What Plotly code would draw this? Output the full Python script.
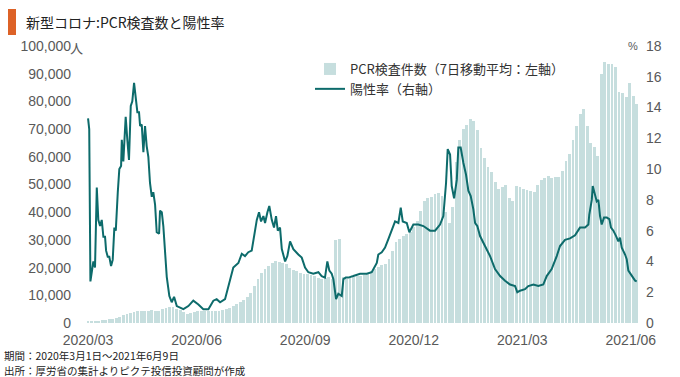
import pandas as pd
import plotly.graph_objects as go

START = "2020-03-01"

# PCR tests (7-day moving average), thousands of people, one value every 3 days from 2020-03-01
tests_k = [
    0.6, 0.7, 0.8, 0.9, 1.0, 1.1, 1.3, 1.5, 1.8, 2.3, 2.9, 3.3, 3.7, 4.1, 4.3, 4.4,
    4.5, 4.4, 4.6, 4.5, 4.5, 4.9, 5.5, 5.8, 5.6, 5.2, 4.8, 3.8, 3.3, 3.6, 4.1, 4.3,
    4.4, 4.3, 4.4, 4.3, 4.4, 4.4, 4.6, 5.0, 5.5, 6.0, 6.8, 7.6, 8.4, 9.3, 11.0, 13.5,
    16.0, 18.0, 19.5, 20.6, 21.5, 22.4, 22.0, 21.5, 21.3, 20.0, 19.0, 18.6, 18.0, 17.8,
    17.7, 17.3, 16.8, 16.3, 15.9, 16.2, 16.5, 16.0, 30.0, 30.3, 16.5, 15.9, 16.2, 16.5,
    16.8, 17.0, 17.4, 18.0, 18.8, 19.5, 20.2, 20.8, 21.3, 23.0, 26.0, 29.2, 30.5, 31.5,
    32.3, 33.0, 34.5, 37.0, 40.5, 44.0, 45.0, 45.5, 46.5, 47.0, 46.0, 40.0, 36.0, 42.0,
    58.0, 66.0, 70.0, 71.5, 73.6, 73.0, 69.5, 63.0, 59.5, 56.5, 54.5, 51.0, 48.5, 49.0,
    50.0, 45.0, 44.0, 49.5, 49.0, 48.4, 48.0, 47.5, 47.2, 50.0, 51.5, 52.5, 53.0, 52.5,
    52.7, 52.6, 55.0, 58.5, 61.0, 66.0, 71.0, 75.5, 77.3, 71.0, 65.0, 63.5, 60.4, 90.0,
    94.1, 93.5, 93.5, 92.3, 83.3, 83.0, 81.5, 86.5, 82.0, 79.0,
]

# Positivity rate (%), sampled at days since 2020-03-01
rate_day = [
    0, 1, 2, 3.1, 4.5, 5.9, 7.4, 8.7, 10.2, 11.6, 13, 14.4, 15.3, 16.7, 18, 19.5,
    20.9, 22.3, 23.5, 25.2, 26.5, 28, 28.6, 29.9, 31.9, 33.3, 34.7, 36.2, 37.5, 39,
    40.4, 41.8, 43.2, 44.1, 45.5, 46.9, 48.3, 49.7, 51.1, 52.5, 54, 55.3, 56.8, 58.2,
    60.2, 61, 62.5, 63.8, 66.7, 68.9, 70.9, 72.9, 75.2, 78, 80.8, 85, 89.2, 93.5,
    97.7, 102, 106.2, 109, 111.9, 116.1, 118.9, 123.1, 127.4, 130.3, 133, 135.8,
    138.7, 143, 144.9, 146.6, 148.6, 150, 152, 153.6, 155.7, 157.6, 159.3, 160.8,
    162.7, 164.2, 167, 168.9, 171.2, 174, 178.2, 181.1, 183.9, 186.7, 190.9, 195.2,
    198, 200.8, 202.8, 204.5, 206.5, 207.9, 210.2, 212.1, 215, 216.4, 218.4, 220.6,
    224.8, 230.5, 236.2, 240.4, 244.7, 246, 248.9, 251.7, 254.5, 257.4, 260.2, 263,
    265, 266.7, 270.1, 272.3, 275.7, 279.9, 284.2, 289.8, 294.1, 298.3, 301.1, 303.4,
    304.8, 306.8, 308.2, 310.2, 312.5, 313.8, 315.8, 318.1, 320.3, 322.3, 324.3,
    326.5, 328, 329.9, 332.2, 336.4, 340.7, 344.9, 349.2, 353.4, 357.6, 361.9, 363.8,
    366.1, 370.3, 373.1, 377.4, 381.6, 385.8, 388.7, 392.9, 397.2, 400, 404.2, 408.5,
    412.7, 416.9, 421.2, 424, 424.8, 426.9, 427.7, 429.7, 431.1, 432.5, 433.9, 435.3,
    437.3, 439.6, 441.8, 443.2, 445.2, 447.5, 449.4, 450.8, 452.3, 455.1, 456.5,
    457.9, 460.8, 463.6, 465,
]
rate_pct = [
    13.3, 12.6, 2.7, 3.3, 4.0, 3.6, 8.8, 6.7, 6.3, 6.7, 5.6, 5.6, 4.7, 4.3, 4.3, 3.7,
    4.1, 6.2, 6.0, 8.5, 10.0, 10.2, 11.9, 10.5, 13.4, 11.9, 10.6, 14.1, 14.4, 15.6,
    14.8, 13.7, 13.7, 12.8, 12.9, 11.1, 12.8, 11.5, 10.8, 9.1, 8.2, 8.5, 7.7, 5.9,
    5.8, 7.3, 7.2, 6.3, 3.0, 1.75, 1.35, 1.7, 1.1, 1.0, 0.9, 1.1, 1.45, 1.2,
    0.9, 0.9, 1.45, 1.55, 1.35, 1.55, 2.4, 3.6, 3.9, 4.5, 4.35, 4.6,
    4.7, 6.7, 7.2, 6.6, 6.95, 6.5, 7.2, 7.6, 6.7, 6.2, 6.95, 6.0,
    6.2, 4.8, 4.0, 4.35, 5.3, 4.8, 4.45, 4.25, 3.6, 3.3, 3.2, 3.3,
    3.05, 2.95, 4.0, 3.4, 3.2, 2.85, 1.55, 1.9, 1.75, 2.85, 2.95, 2.95,
    3.05, 3.2, 3.2, 3.3, 3.9, 4.45, 4.6, 4.9, 5.45, 6.1, 6.6, 6.5,
    7.5, 6.6, 6.5, 5.9, 6.4, 6.4, 6.3, 6.0, 6.0, 6.4, 6.95, 9.1,
    11.3, 10.95, 8.9, 8.1, 9.3, 11.4, 11.4, 10.4, 9.65, 8.6, 8.25,
    7.4, 6.5, 6.3, 5.65, 5.0, 4.35, 3.5, 3.05, 2.75, 2.5, 2.4, 2.0,
    2.1, 2.2, 2.4, 2.5, 2.4, 2.5, 3.05, 3.5, 4.35, 5.0, 5.4, 5.5,
    5.7, 6.2, 6.2, 6.4, 7.05, 8.0, 8.9, 8.25, 7.9, 8.0, 6.95, 6.4,
    6.85, 6.85, 6.75, 6.2, 6.0, 5.65, 5.3, 5.55, 4.9, 4.45, 4.15,
    3.4, 3.05, 2.75, 2.7,
]

x_tick_day = [0, 92, 184, 276, 368, 460]
x_tick_text = ["2020/03", "2020/06", "2020/09", "2020/12", "2021/03", "2021/06"]
y_left_ticks = list(range(0, 100001, 10000))
y_left_text = [f"{v:,}" for v in y_left_ticks]
y_right_ticks = list(range(0, 19, 2))
y_right_text = [str(v) for v in y_right_ticks]

title_text = "新型コロナ:PCR検査数と陽性率"
bar_name = "PCR検査件数（7日移動平均：左軸）"
line_name = "陽性率（右軸）"
note1 = "期間：2020年3月1日～2021年6月9日"
note2 = "出所：厚労省の集計よりピクテ投信投資顧問が作成"

start = pd.Timestamp(START)
bar_x = pd.date_range(start, periods=len(tests_k), freq="3D")
tests = [v * 1000 for v in tests_k]
rate_x = [start + pd.Timedelta(days=d) for d in rate_day]
tick_x = [start + pd.Timedelta(days=d) for d in x_tick_day]

JP = "Noto Sans CJK JP"
NUM = "Liberation Sans, Noto Sans CJK JP"
GRAY = "#595959"
BAR = "#C6DEDE"
LINE = "#0D6B6B"

fig = go.Figure()
fig.add_trace(go.Bar(
    x=bar_x, y=tests, name=bar_name, marker=dict(color=BAR, line=dict(width=0)),
    width=2.4 * 86400000, legendgroup="a", yaxis="y",
))
fig.add_trace(go.Scatter(
    x=rate_x, y=rate_pct, name=line_name, mode="lines",
    line=dict(color=LINE, width=2), legendgroup="b", yaxis="y2",
))

L, R, T, B = 72, 35, 46, 54
W, H = 680, 377
pw, ph = W - L - R, H - T - B


def px(x):
    return (x - L) / pw


def py(y):
    return (H - B - y) / ph


x0 = start - pd.Timedelta(days=13.6)
x1 = start + pd.Timedelta(days=472)

fig.update_layout(
    width=W, height=H, margin=dict(l=L, r=R, t=T, b=B, autoexpand=False),
    paper_bgcolor="white", plot_bgcolor="white",
    font=dict(family=JP, size=13, color="#333333"),
    bargap=0,
    xaxis=dict(
        type="date", range=[x0, x1], tickvals=tick_x, ticktext=x_tick_text,
        showgrid=False, zeroline=False, showline=False, ticks="",
        ticklabelstandoff=7,
        tickfont=dict(family=NUM, size=14, color=GRAY),
    ),
    yaxis=dict(
        range=[0, 100000], tickvals=y_left_ticks, ticktext=y_left_text,
        showgrid=False, zeroline=False, showline=False, ticks="",
        tickfont=dict(family=NUM, size=14, color=GRAY),
    ),
    yaxis2=dict(
        range=[0, 18], tickvals=y_right_ticks, ticktext=y_right_text,
        overlaying="y", side="right",
        showgrid=False, zeroline=False, showline=False, ticks="",
        tickfont=dict(family=NUM, size=14, color=GRAY),
    ),
    legend=dict(
        x=px(310), y=py(54), xanchor="left", yanchor="top",
        bgcolor="rgba(0,0,0,0)", font=dict(family=JP, size=13, color="#333333"),
        tracegroupgap=6, traceorder="normal",
    ),
    showlegend=True,
)

fig.add_shape(type="rect", xref="paper", yref="paper",
              x0=px(8), x1=px(16), y0=py(35), y1=py(9),
              fillcolor="#DD6227", line=dict(width=0))

fig.add_annotation(text=title_text, xref="paper", yref="paper", x=px(24), y=py(22),
                   xanchor="left", yanchor="middle", showarrow=False,
                   font=dict(family=JP, size=14, color="#222222"))
fig.add_annotation(text="人", xref="paper", yref="paper", x=px(68), y=py(47),
                   xanchor="left", yanchor="middle", showarrow=False,
                   font=dict(family=JP, size=13, color=GRAY))
fig.add_annotation(text="%", xref="paper", yref="paper", x=px(640), y=py(46),
                   xanchor="right", yanchor="middle", showarrow=False,
                   font=dict(family=NUM, size=11, color=GRAY))
fig.add_annotation(text=note1, xref="paper", yref="paper", x=px(2), y=py(355),
                   xanchor="left", yanchor="middle", showarrow=False,
                   font=dict(family=JP, size=10.5, color="#222222"))
fig.add_annotation(text=note2, xref="paper", yref="paper", x=px(2), y=py(370),
                   xanchor="left", yanchor="middle", showarrow=False,
                   font=dict(family=JP, size=10.5, color="#222222"))

fig.write_html("out.html", config={"displayModeBar": False},
               post_script="document.body.style.margin='0';")
